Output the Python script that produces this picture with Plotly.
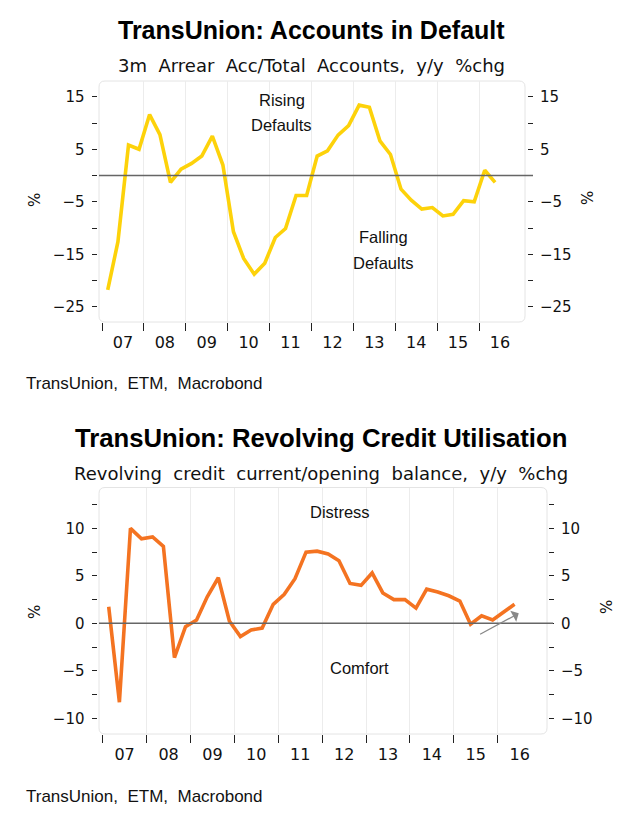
import plotly.graph_objects as go

# ---------------- data ----------------
dates = [
    "2007-02-20", "2007-05-20", "2007-08-20", "2007-11-20",
    "2008-02-20", "2008-05-20", "2008-08-20", "2008-11-20",
    "2009-02-20", "2009-05-20", "2009-08-20", "2009-11-20",
    "2010-02-20", "2010-05-20", "2010-08-20", "2010-11-20",
    "2011-02-20", "2011-05-20", "2011-08-20", "2011-11-20",
    "2012-02-20", "2012-05-20", "2012-08-20", "2012-11-20",
    "2013-02-20", "2013-05-20", "2013-08-20", "2013-11-20",
    "2014-02-20", "2014-05-20", "2014-08-20", "2014-11-20",
    "2015-02-20", "2015-05-20", "2015-08-20", "2015-11-20",
    "2016-02-20", "2016-05-20",
]

accounts_default = [
    -21.8, -12.6, 5.8, 5.0, 11.6, 7.8, -1.3, 1.2, 2.3, 3.7, 7.5, 2.0,
    -10.7, -15.8, -18.8, -16.7, -11.8, -10.1, -3.8, -3.8, 3.7, 4.7, 7.7, 9.5,
    13.4, 13.0, 6.6, 4.0, -2.6, -4.7, -6.4, -6.1, -7.7, -7.4, -4.8, -5.0,
    1.0, -1.3,
]

revolving_util = [
    1.75, -8.3, 10.0, 8.9, 9.1, 8.1, -3.6, -0.35, 0.35, 2.8, 4.8, 0.25,
    -1.4, -0.7, -0.5, 2.0, 3.05, 4.7, 7.5, 7.6, 7.3, 6.6, 4.2, 4.0,
    5.3, 3.2, 2.5, 2.5, 1.6, 3.6, 3.3, 2.9, 2.35, -0.1, 0.8, 0.35,
    1.2, 2.0,
]

year_starts = ["2007-01-01", "2008-01-01", "2009-01-01", "2010-01-01", "2011-01-01",
               "2012-01-01", "2013-01-01", "2014-01-01", "2015-01-01", "2016-01-01"]
year_mids = ["2007-07-02", "2008-07-02", "2009-07-02", "2010-07-02", "2011-07-02",
             "2012-07-02", "2013-07-02", "2014-07-02", "2015-07-02", "2016-07-02"]
year_labels = ["07", "08", "09", "10", "11", "12", "13", "14", "15", "16"]

top_yticks = [15, 5, -5, -15, -25]
bot_yticks = [10, 5, 0, -5, -10]

# ---------------- layout helpers ----------------
W, H = 640, 820
def px(x):
    return x / W
def py(y):
    return 1 - y / H

TICK_FONT = dict(family="DejaVu Sans", size=15, color="#111")
ANN_FONT = dict(family="Liberation Sans", size=16.5, color="#111")
SP = "\u00a0 "

YELLOW = "#FDD20A"
ORANGE = "#F47321"

fig = go.Figure()
fig.add_trace(go.Scatter(x=dates, y=accounts_default, mode="lines",
                         line=dict(color=YELLOW, width=3.6), xaxis="x", yaxis="y",
                         showlegend=False, hoverinfo="skip"))
fig.add_trace(go.Scatter(x=dates, y=revolving_util, mode="lines",
                         line=dict(color=ORANGE, width=3.6), xaxis="x2", yaxis="y3",
                         showlegend=False, hoverinfo="skip"))
# invisible traces for the right-hand axes
fig.add_trace(go.Scatter(x=[dates[0]], y=[0], mode="markers", marker=dict(opacity=0),
                         xaxis="x", yaxis="y2", showlegend=False, hoverinfo="skip"))
fig.add_trace(go.Scatter(x=[dates[0]], y=[0], mode="markers", marker=dict(opacity=0),
                         xaxis="x2", yaxis="y4", showlegend=False, hoverinfo="skip"))

def xaxis_cfg(domain, anchor):
    return dict(
        domain=domain, anchor=anchor, type="date",
        range=["2007-01-01", "2017-01-01"],
        tickmode="array", tickvals=year_mids, ticktext=year_labels,
        ticks="", showgrid=False, zeroline=False, showline=False,
        tickfont=dict(family="DejaVu Sans", size=16, color="#111"),
        ticklabelstandoff=9,
        minor=dict(tickmode="array", tickvals=year_starts, ticks="outside",
                   ticklen=8, tickwidth=1, tickcolor="#222",
                   showgrid=True, gridcolor="#ececec", gridwidth=1),
    )

def yaxis_cfg(domain, rng, tickvals, minor_dtick, pos, side, overlay=None):
    d = dict(
        domain=domain, range=rng, tickmode="array", tickvals=tickvals,
        ticks="outside", ticklen=5, tickwidth=1.3, tickcolor="#222",
        showgrid=False, zeroline=False, showline=False,
        anchor="free", position=pos, side=side,
        tickfont=TICK_FONT, ticklabelstandoff=4,
        minor=dict(dtick=minor_dtick, tick0=0, ticks="outside", ticklen=5,
                   tickwidth=1.3, tickcolor="#222", showgrid=False),
    )
    if overlay:
        d["overlaying"] = overlay
        d["matches"] = overlay
    return d

top_xdom = [px(102), px(521)]
top_ydom = [py(322), py(81)]
bot_xdom = [px(102.7), px(541.7)]
bot_ydom = [py(734), py(487.5)]
top_range = [-27.9, 18.0]
bot_range = [-11.65, 14.3]

fig.update_layout(
    width=W, height=H, margin=dict(l=0, r=0, t=0, b=0),
    paper_bgcolor="white", plot_bgcolor="rgba(0,0,0,0)",
    xaxis=xaxis_cfg(top_xdom, "y"),
    xaxis2=xaxis_cfg(bot_xdom, "y3"),
    yaxis=yaxis_cfg(top_ydom, top_range, top_yticks, 5, px(96.5), "left"),
    yaxis2=yaxis_cfg(top_ydom, top_range, top_yticks, 5, px(527), "right", overlay="y"),
    yaxis3=yaxis_cfg(bot_ydom, bot_range, bot_yticks, 2.5, px(96.5), "left"),
    yaxis4=yaxis_cfg(bot_ydom, bot_range, bot_yticks, 2.5, px(548), "right", overlay="y3"),
)

# rounded plot boxes
def rounded_box(x0, y0, x1, y1, r=6):
    X0, X1 = px(x0), px(x1)
    Y0, Y1 = py(y0), py(y1)  # Y0 top, Y1 bottom (paper)
    rx, ry = r / W, r / H
    path = (f"M {X0+rx},{Y0} L {X1-rx},{Y0} Q {X1},{Y0} {X1},{Y0-ry} "
            f"L {X1},{Y1+ry} Q {X1},{Y1} {X1-rx},{Y1} "
            f"L {X0+rx},{Y1} Q {X0},{Y1} {X0},{Y1+ry} "
            f"L {X0},{Y0-ry} Q {X0},{Y0} {X0+rx},{Y0} Z")
    return dict(type="path", xref="paper", yref="paper", path=path,
                line=dict(color="#e4e4e4", width=1), fillcolor="rgba(0,0,0,0)",
                layer="below")

fig.add_shape(rounded_box(99, 81, 525, 322))
fig.add_shape(rounded_box(99, 487.5, 547, 734))

# zero lines
fig.add_shape(type="line", xref="paper", yref="y", x0=px(99), x1=px(533), y0=0, y1=0,
              line=dict(color="#666", width=1.5))
fig.add_shape(type="line", xref="paper", yref="y3", x0=px(99), x1=px(553), y0=0, y1=0,
              line=dict(color="#666", width=1.5))

def paper_text(text, x, y, font, xanchor="center", angle=0):
    return dict(text=text, x=px(x), y=py(y), xref="paper", yref="paper",
                showarrow=False, xanchor=xanchor, yanchor="middle",
                textangle=angle, font=font)

anns = []
SUB_FONT = dict(family="DejaVu Sans", size=18, color="#111")
SRC_FONT = dict(family="Liberation Sans", size=17, color="#111")
anns.append(paper_text("<b>TransUnion: Accounts in Default</b>", 311, 30,
                       dict(family="Liberation Sans", size=25, color="#000")))
anns.append(paper_text(SP.join(["3m", "Arrear", "Acc/Total", "Accounts,", "y/y", "%chg"]),
                       311, 66, SUB_FONT))
anns.append(paper_text("<b>TransUnion: Revolving Credit Utilisation</b>", 321, 438,
                       dict(family="Liberation Sans", size=25.7, color="#000")))
anns.append(paper_text(SP.join(["Revolving", "credit", "current/opening", "balance,", "y/y", "%chg"]),
                       321, 474, SUB_FONT))
for yy in (383, 796):
    anns.append(paper_text(SP.join(["TransUnion,", "ETM,", "Macrobond"]),
                           24, yy, SRC_FONT, xanchor="left"))
for (xx, yy) in ((35, 200), (588, 198), (35, 612), (607, 607)):
    anns.append(paper_text("%", xx, yy, dict(family="DejaVu Sans", size=15, color="#111"),
                           angle=-90))
# in-chart labels
anns += [
    dict(text="Rising", x="2011-04-16", y=14.4, xref="x", yref="y", showarrow=False, font=ANN_FONT),
    dict(text="Defaults", x="2011-04-16", y=9.6, xref="x", yref="y", showarrow=False, font=ANN_FONT),
    dict(text="Falling", x="2013-09-16", y=-11.8, xref="x", yref="y", showarrow=False, font=ANN_FONT),
    dict(text="Defaults", x="2013-09-16", y=-16.7, xref="x", yref="y", showarrow=False, font=ANN_FONT),
    dict(text="Distress", x="2012-05-30", y=11.75, xref="x2", yref="y3", showarrow=False, font=ANN_FONT),
    dict(text="Comfort", x="2012-11-06", y=-4.7, xref="x2", yref="y3", showarrow=False, font=ANN_FONT),
    dict(text="", x="2016-06-24", y=1.05, ax="2015-07-26", ay=-1.23,
         xref="x2", yref="y3", axref="x2", ayref="y3",
         showarrow=True, arrowhead=1, arrowsize=1.6, arrowwidth=1.3, arrowcolor="#888"),
]
fig.update_layout(annotations=anns)

fig.write_html("out.html")
